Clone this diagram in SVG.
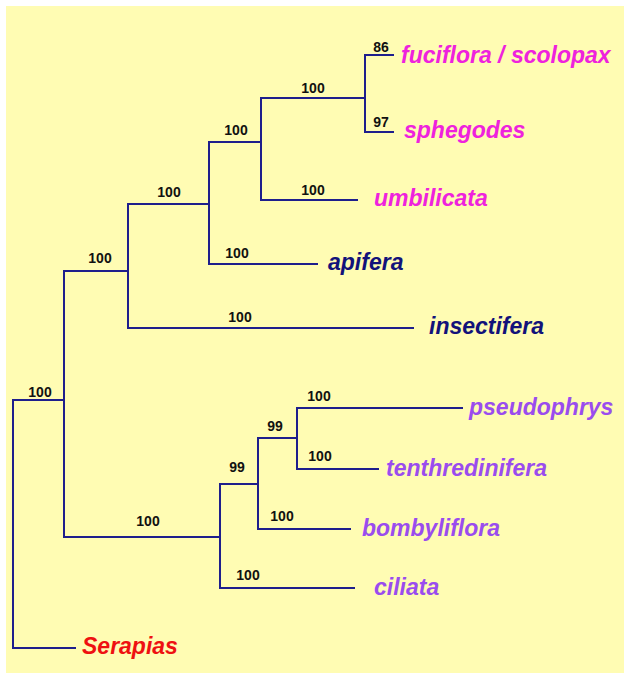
<svg xmlns="http://www.w3.org/2000/svg" width="624" height="673" viewBox="0 0 624 673">
<style>
.bg{fill:#FFFCB3}
.br{stroke:#1E1E8C;stroke-width:2;fill:none;stroke-linecap:square}
.bs{font-family:"Liberation Sans",Arial,sans-serif;font-weight:bold;font-size:14px;fill:#111111}
.tx{font-family:"Liberation Sans",Arial,sans-serif;font-weight:bold;font-style:italic;font-size:23px}
.mg{fill:#EE22DD}
.nv{fill:#12127A}
.pu{fill:#9A4CEE}
.rd{fill:#EE1111}
</style>
<rect class="bg" x="6" y="6" width="618" height="667"/>
<g id="connectors">
<path class="br" d="M13,400 V648 H75"/>
<path class="br" d="M13,400 H64"/>
<path class="br" d="M64,271 V537 H220"/>
<path class="br" d="M64,271 H128"/>
<path class="br" d="M128,204 V328 H413"/>
<path class="br" d="M128,204 H209"/>
<path class="br" d="M209,142 V264 H317"/>
<path class="br" d="M209,142 H261"/>
<path class="br" d="M261,98 V200 H357"/>
<path class="br" d="M261,98 H365"/>
<path class="br" d="M365,55 V132 H393"/>
<path class="br" d="M365,55 H393"/>
<path class="br" d="M220,484 V588 H354"/>
<path class="br" d="M220,484 H258"/>
<path class="br" d="M258,438 V529 H350"/>
<path class="br" d="M258,438 H297"/>
<path class="br" d="M297,408 V469 H378"/>
<path class="br" d="M297,408 H462"/>
</g>
<g id="support">
<text class="bs" x="40" y="397" text-anchor="middle">100</text>
<text class="bs" x="100" y="263" text-anchor="middle">100</text>
<text class="bs" x="169" y="197" text-anchor="middle">100</text>
<text class="bs" x="236" y="135" text-anchor="middle">100</text>
<text class="bs" x="313" y="93" text-anchor="middle">100</text>
<text class="bs" x="381" y="52" text-anchor="middle">86</text>
<text class="bs" x="381" y="127" text-anchor="middle">97</text>
<text class="bs" x="313" y="195" text-anchor="middle">100</text>
<text class="bs" x="237" y="258" text-anchor="middle">100</text>
<text class="bs" x="240" y="322" text-anchor="middle">100</text>
<text class="bs" x="148" y="526" text-anchor="middle">100</text>
<text class="bs" x="237" y="472" text-anchor="middle">99</text>
<text class="bs" x="275" y="431" text-anchor="middle">99</text>
<text class="bs" x="319" y="401" text-anchor="middle">100</text>
<text class="bs" x="320" y="461" text-anchor="middle">100</text>
<text class="bs" x="282" y="521" text-anchor="middle">100</text>
<text class="bs" x="248" y="580" text-anchor="middle">100</text>
</g>
<g id="fuciflora"><text class="tx mg" x="401" y="63">fuciflora / scolopax</text></g>
<g id="sphegodes"><text class="tx mg" x="404" y="138">sphegodes</text></g>
<g id="umbilicata"><text class="tx mg" x="374" y="206">umbilicata</text></g>
<g id="apifera"><text class="tx nv" x="328" y="270">apifera</text></g>
<g id="insectifera"><text class="tx nv" x="429" y="334">insectifera</text></g>
<g id="pseudophrys"><text class="tx pu" x="469" y="415">pseudophrys</text></g>
<g id="tenthredinifera"><text class="tx pu" x="386" y="476">tenthredinifera</text></g>
<g id="bombyliflora"><text class="tx pu" x="362" y="536">bombyliflora</text></g>
<g id="ciliata"><text class="tx pu" x="374" y="595">ciliata</text></g>
<g id="serapias"><text class="tx rd" x="82" y="654">Serapias</text></g>
</svg>
